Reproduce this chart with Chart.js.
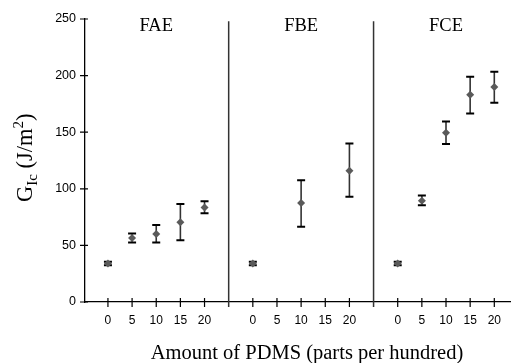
<!DOCTYPE html>
<html>
<head>
<meta charset="utf-8">
<script src="https://cdn.jsdelivr.net/npm/chart.js@4.4.1/dist/chart.umd.min.js"></script>
<style>
  html, body { margin: 0; padding: 0; background: #fff; }
  #wrap { width: 514px; height: 363px; }
</style>
</head>
<body>
<div id="wrap"><canvas id="chart"></canvas></div>
<script>
// G_Ic of the three resins vs. PDMS loading (phr); null = not measured
const groups = ['FAE', 'FBE', 'FCE'];
const pdms = [0, 5, 10, 15, 20];
const faeMean = [34, 56.5, 60, 70.5, 83.5];
const faeLow = [32.5, 52.5, 52.5, 54.5, 78.5];
const faeHigh = [35.5, 60.5, 68, 86.5, 89];
const fbeMean = [34, null, 87.5, null, 116];
const fbeLow = [32.5, null, 66.5, null, 93];
const fbeHigh = [35.5, null, 107.5, null, 140];
const fceMean = [34, 89.5, 149.5, 183, 190];
const fceLow = [32.5, 85.5, 139.5, 166.5, 176];
const fceHigh = [35.5, 94, 159.5, 199, 203.5];
const yTicks = [0, 50, 100, 150, 200, 250];

const means = [faeMean, fbeMean, fceMean];
const lows = [faeLow, fbeLow, fceLow];
const highs = [faeHigh, fbeHigh, fceHigh];

// every panel takes pdms.length slots on one shared x scale, plus one slot for the divider
const slot = pdms.length + 1;
const tickPositions = [];
groups.forEach((g, gi) => pdms.forEach((p, i) => tickPositions.push(gi * slot + i)));
const dividers = groups.slice(1).map((g, gi) => (gi + 1) * slot - 1);

const datasets = groups.map((g, gi) => ({
    label: g,
    data: pdms.map((p, i) => ({
        x: gi * slot + i,
        y: means[gi][i],
        low: lows[gi][i],
        high: highs[gi][i]
    })).filter(d => d.y !== null),
    pointStyle: 'rectRot',
    pointRadius: 4,
    backgroundColor: '#5a5a5a',
    borderColor: '#5a5a5a',
    borderWidth: 0,
    showLine: false
}));

const SERIF = '"Liberation Serif", "Times New Roman", serif';
const SANS = '"Liberation Sans", Arial, sans-serif';

const panelDecor = {
    id: 'panelDecor',
    beforeDatasetsDraw(chart) {
        const { ctx, scales: { x, y } } = chart;
        ctx.save();
        chart.data.datasets.forEach(ds => {
            ds.data.forEach(d => {
                const px = x.getPixelForValue(d.x);
                const top = y.getPixelForValue(d.high);
                const bot = y.getPixelForValue(d.low);
                ctx.strokeStyle = '#333';
                ctx.lineWidth = 1.6;
                ctx.beginPath();
                ctx.moveTo(px, top);
                ctx.lineTo(px, bot);
                ctx.stroke();
                ctx.strokeStyle = '#000';
                ctx.lineWidth = 2;
                ctx.beginPath();
                ctx.moveTo(px - 4, top);
                ctx.lineTo(px + 4, top);
                ctx.moveTo(px - 4, bot);
                ctx.lineTo(px + 4, bot);
                ctx.stroke();
            });
        });
        ctx.restore();
    },
    afterDraw(chart) {
        const { ctx, chartArea, scales: { x, y } } = chart;
        ctx.save();

        // tick marks crossing the axes
        ctx.strokeStyle = '#000';
        ctx.lineWidth = 1.2;
        ctx.beginPath();
        x.ticks.forEach(t => {
            const px = x.getPixelForValue(t.value);
            ctx.moveTo(px, chartArea.bottom - 4);
            ctx.lineTo(px, chartArea.bottom + 5);
        });
        y.ticks.forEach(t => {
            const py = y.getPixelForValue(t.value);
            ctx.moveTo(chartArea.left - 5, py);
            ctx.lineTo(chartArea.left + 3, py);
        });
        ctx.stroke();

        // panel dividers
        ctx.strokeStyle = '#333';
        ctx.lineWidth = 1.5;
        ctx.beginPath();
        dividers.forEach(v => {
            const px = x.getPixelForValue(v);
            ctx.moveTo(px, y.getPixelForValue(248));
            ctx.lineTo(px, chartArea.bottom + 5);
        });
        ctx.stroke();

        // panel names
        ctx.fillStyle = '#000';
        ctx.font = '18.5px ' + SERIF;
        ctx.textAlign = 'center';
        ctx.textBaseline = 'middle';
        groups.forEach((g, gi) => {
            ctx.fillText(g, x.getPixelForValue(gi * slot + 2), 26);
        });

        // x axis title
        ctx.font = '20.5px ' + SERIF;
        ctx.textBaseline = 'alphabetic';
        ctx.fillText('Amount of PDMS (parts per hundred)', 307, 359);

        // y axis title with sub/superscripts, written bottom to top
        ctx.translate(32, 202);
        ctx.rotate(-Math.PI / 2);
        ctx.textAlign = 'left';
        const parts = [
            { t: 'G', size: 22.5, dy: 0 },
            { t: 'Ic', size: 15, dy: 5 },
            { t: ' (J/m', size: 22.5, dy: 0 },
            { t: '2', size: 15, dy: -9 },
            { t: ')', size: 22.5, dy: 0 }
        ];
        let cx = 0;
        parts.forEach(p => {
            ctx.font = p.size + 'px ' + SERIF;
            ctx.fillText(p.t, cx, p.dy);
            cx += ctx.measureText(p.t).width;
        });
        ctx.restore();
    }
};

new Chart(document.getElementById('chart'), {
    type: 'scatter',
    data: { datasets },
    plugins: [panelDecor],
    options: {
        responsive: true,
        maintainAspectRatio: false,
        animation: false,
        layout: { padding: { top: 19, right: 1, left: 0, bottom: 0 } },
        plugins: {
            legend: { display: false },
            tooltip: { enabled: false }
        },
        scales: {
            x: {
                type: 'linear',
                min: -0.95,
                max: 16.65,
                afterBuildTicks: scale => {
                    scale.ticks = tickPositions.map(v => ({ value: v }));
                },
                afterFit: scale => { scale.height = 61; },
                ticks: {
                    autoSkip: false,
                    maxRotation: 0,
                    padding: 11,
                    color: '#000',
                    font: { family: SANS, size: 12 },
                    callback: v => String(pdms[v % slot])
                },
                grid: { display: false, drawTicks: false },
                border: { display: true, color: '#000', width: 1.3 }
            },
            y: {
                min: 0,
                max: 250,
                afterBuildTicks: scale => {
                    scale.ticks = yTicks.map(v => ({ value: v }));
                },
                afterFit: scale => { scale.width = 85; },
                ticks: {
                    padding: 9,
                    color: '#000',
                    font: { family: SANS, size: 12.5 }
                },
                grid: { display: false, drawTicks: false },
                border: { display: true, color: '#000', width: 1.3 }
            }
        }
    }
});
</script>
</body>
</html>
